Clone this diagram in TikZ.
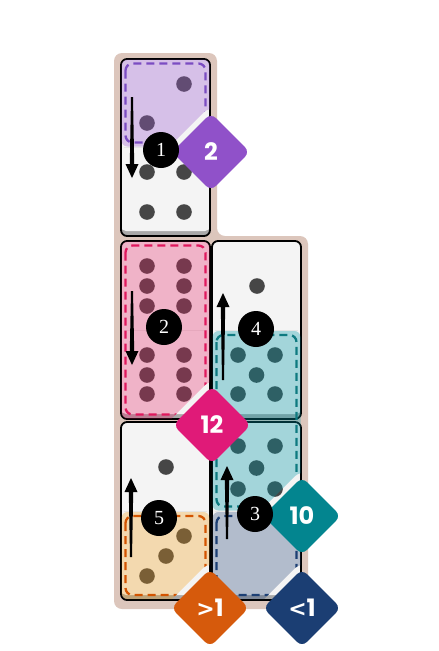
\documentclass[tikz,border=0pt]{standalone}
\usepackage{fontspec}
\setmainfont{Liberation Serif}
\newfontfamily\lblfont{Poppins}
\newfontfamily\chevfont{DejaVu Sans}
\usetikzlibrary{calc}
\definecolor{board}{HTML}{DCC6BC}
\definecolor{domface}{HTML}{F4F4F4}
\definecolor{domshade}{HTML}{A8A8A8}
\definecolor{pipc}{HTML}{464646}
\definecolor{cpurple}{HTML}{9B59D0}
\definecolor{dpurple}{HTML}{7B4CC2}
\definecolor{lpurple}{HTML}{9051C9}
\definecolor{cpink}{HTML}{E91E63}
\definecolor{dpink}{HTML}{E0185E}
\definecolor{lpink}{HTML}{E01A78}
\definecolor{cteal}{HTML}{0097A7}
\definecolor{dteal}{HTML}{0E7A80}
\definecolor{lteal}{HTML}{03858F}
\definecolor{corange}{HTML}{F39C12}
\definecolor{dorange}{HTML}{D35400}
\definecolor{lorange}{HTML}{D65A0C}
\definecolor{cblue}{HTML}{2C4A7C}
\definecolor{dblue}{HTML}{1C3F74}
\definecolor{lblue}{HTML}{1B3E73}
\newcommand\dominobox[4]{%
  \fill[domshade, rounded corners=6pt] (#1,#2) rectangle (#3,#4);
  \fill[domface, rounded corners=5pt] (#1,#2) rectangle (#3,#4-5);
  \draw[black!10, line width=0.6pt] (#1+3,{(#2+#4)/2}) -- (#3-3,{(#2+#4)/2});
  \draw[line width=1.8pt, rounded corners=6pt] (#1,#2) rectangle (#3,#4);
}
\newcommand\pip[2]{\fill[pipc] (#1,#2) circle (7.8);}
\newcommand\notchclip[1]{\clip (0,0) -- (439,0) -- (439,651) -- (0,651) -- cycle
  [rounded corners=10pt] ($(#1)+(0,-47)$) -- ($(#1)+(-47,0)$) -- ($(#1)+(0,47)$) -- ($(#1)+(47,0)$) -- cycle;}
\newcommand\tarrow[3]{\fill ($(#1)+(-1,0)$) -- ($(#2)+(-2.2,#3)$) -- ($(#2)+(-6.5,#3)$) -- (#2)
  -- ($(#2)+(6.5,#3)$) -- ($(#2)+(2.2,#3)$) -- ($(#1)+(1,0)$) -- cycle;}
\newcommand\region[9]{% fillcolor, dashcolor, diamond coord, x1,y1,x2,y2, inset, opacity
  \begin{scope}
    \notchclip{#3}
    \fill[#1, fill opacity=#9, rounded corners=6pt] (#4,#5) rectangle (#6,#7);
    \draw[#2, dashline] (#4+#8,#5+#8) rectangle (#6-#8,#7-#8);
  \end{scope}
}
\begin{document}
\begin{tikzpicture}[x=1pt,y=-1pt,
  dashline/.style={dash pattern=on 8pt off 5pt, line width=2.3pt, rounded corners=7pt},
  stepno/.style={circle, fill=black, text=white, minimum size=36pt, inner sep=0pt, font=\fontsize{20}{20}\selectfont},
  tagbox/.style={rotate=45, minimum size=55pt, rounded corners=7pt, inner sep=0pt},
  tagtext/.style={text=white, inner sep=0pt, font=\lblfont\bfseries\fontsize{24}{24}\selectfont},
]
\useasboundingbox (0,0) rectangle (439,651);
\fill[white] (0,0) rectangle (439,651);
% board
\fill[board, rounded corners=8pt] (114,53) -- (217,53) -- (217,236) -- (308,236) -- (308,609) -- (114,609) -- cycle;
% dominoes
\dominobox{121}{59}{210}{236}
\dominobox{121}{241}{210}{419}
\dominobox{212}{241}{301}{419}
\dominobox{121}{422}{210}{600}
\dominobox{212}{422}{301}{600}
% pips domino 1
\pip{184}{84}\pip{147}{123}
\pip{147}{172}\pip{184}{172}\pip{147}{212}\pip{184}{212}
% domino 2
\foreach \yy in {266,286,306,355,375,394}{\pip{147}{\yy}\pip{184}{\yy}}
% domino 3
\pip{257}{286}
\pip{238}{355}\pip{275}{355}\pip{256.5}{375}\pip{238}{394}\pip{275}{394}
% domino 4
\pip{166}{467}
\pip{184}{536}\pip{166}{556}\pip{147}{576}
% domino 5
\pip{238}{446}\pip{275}{446}\pip{256.5}{468}\pip{238}{489}\pip{275}{489}
% diamond centres
\coordinate (c2) at (211,152);
\coordinate (c12) at (212,425);
\coordinate (c10) at (302,516);
\coordinate (cgt) at (210,608);
\coordinate (clt) at (302,608);
% regions
\region{cpurple}{dpurple}{c2}{121.5}{59.5}{209.5}{146.5}{4}{0.33}
\region{cpink}{dpink}{c12}{121.5}{241.5}{209.5}{418.5}{4}{0.3}
\region{cteal}{dteal}{c10}{212.5}{331}{300.5}{510.5}{4}{0.33}
\region{corange}{dorange}{cgt}{121.5}{512}{209.5}{599}{4}{0.3}
\region{cblue}{dblue}{clt}{212.5}{512}{300.5}{599}{4}{0.33}
% tags
\node[tagbox, fill=lpurple] (t2) at (c2) {};
\node[tagtext] (l2) at (t2) {2};
\node[tagbox, fill=lpink] (t12) at (c12) {};
\node[tagtext] (l12) at (t12) {12};
\node[tagbox, fill=lteal] (t10) at (c10) {};
\node[tagtext] (l10) at (t10) {10};
\node[tagbox, fill=lorange] (tgt) at (cgt) {};
\node[tagtext] (lgt) at (tgt) {{\chevfont\bfseries\fontsize{22}{22}\selectfont >}1};
\node[tagbox, fill=lblue] (tlt) at (clt) {};
\node[tagtext] (llt) at (tlt) {{\chevfont\bfseries\fontsize{22}{22}\selectfont <}1};
% arrows
\coordinate (a1t) at (132,97);  \coordinate (a1h) at (132,178);
\coordinate (a2t) at (132,291); \coordinate (a2h) at (132,365);
\coordinate (a4t) at (223,380); \coordinate (a4h) at (223,293);
\coordinate (a5t) at (131,557); \coordinate (a5h) at (131,478);
\coordinate (a3t) at (227,539); \coordinate (a3h) at (227,466);
\tarrow{a1t}{a1h}{-14}
\tarrow{a2t}{a2h}{-14}
\tarrow{a4t}{a4h}{14}
\tarrow{a5t}{a5h}{14}
\tarrow{a3t}{a3h}{14}
% step numbers
\node[stepno] (s1) at (161,150) {1};
\node[stepno] (s2) at (164,327) {2};
\node[stepno] (s4) at (256,329) {4};
\node[stepno] (s5) at (159,518) {5};
\node[stepno] (s3) at (255,514) {3};
\end{tikzpicture}
\end{document}
